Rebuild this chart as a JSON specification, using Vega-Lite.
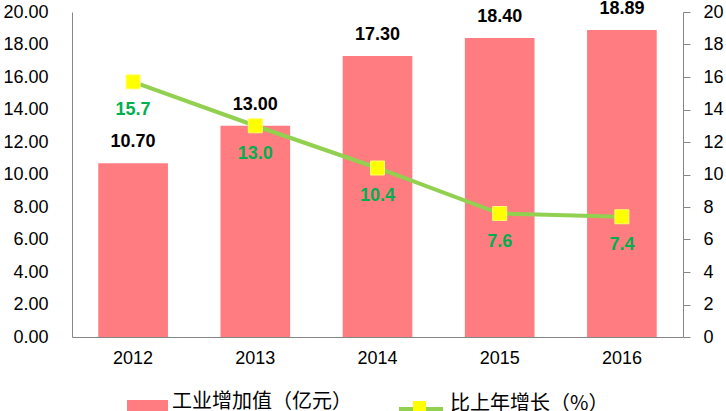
{
  "$schema": "https://vega.github.io/schema/vega-lite/v6.json",
  "autosize": "none",
  "width": 611,
  "height": 325,
  "padding": {"left": 72, "top": 12, "right": 43, "bottom": 74},
  "background": "white",
  "config": {
    "view": {"stroke": null},
    "axis": {"labelFont": "Liberation Sans", "labelFontSize": 18, "labelColor": "#000000", "domainColor": "#868686", "tickColor": "#868686", "grid": false, "title": null},
    "legend": {"padding": 0, "labelFont": "Noto Sans CJK SC", "labelFontSize": 20, "labelColor": "#000000", "labelLimit": 400, "title": null}
  },
  "data": {"values": [
    {"year": "2012", "value": 10.70, "growth": 15.7},
    {"year": "2013", "value": 13.00, "growth": 13.0},
    {"year": "2014", "value": 17.30, "growth": 10.4},
    {"year": "2015", "value": 18.40, "growth": 7.6},
    {"year": "2016", "value": 18.89, "growth": 7.4}
  ]},
  "encoding": {
    "x": {"field": "year", "type": "nominal", "scale": {"paddingInner": 0.43, "paddingOuter": 0.215},
      "axis": {"labelAngle": 0, "ticks": false, "labelPadding": 12, "domainColor": "#868686"}}
  },
  "layer": [
    {
      "encoding": {
        "y": {"field": "value", "type": "quantitative", "scale": {"domain": [0, 20], "nice": false},
          "axis": {"orient": "left", "values": [0,2,4,6,8,10,12,14,16,18,20], "format": ".2f", "ticks": false, "labelPadding": 24}}
      },
      "layer": [
        {
          "mark": {"type": "bar", "color": "#FF7C80"},
          "encoding": {
            "fill": {"datum": "工业增加值（亿元）", "scale": {"range": ["#FF7C80"]},
              "legend": {"orient": "none", "legendX": 55, "legendY": 369, "symbolType": "M-1,-0.073H1V0.5H-1Z", "symbolSize": 1681, "symbolStrokeWidth": 0, "labelOffset": 4}}
          }
        },
        {
          "mark": {"type": "text", "font": "Liberation Sans", "fontSize": 18, "fontWeight": "bold", "color": "#000000", "baseline": "middle", "dy": -21},
          "encoding": {"text": {"field": "value", "type": "quantitative", "format": ".2f"}}
        }
      ]
    },
    {
      "encoding": {
        "y": {"field": "growth", "type": "quantitative", "scale": {"domain": [0, 20], "nice": false},
          "axis": {"orient": "right", "values": [0,2,4,6,8,10,12,14,16,18,20], "format": "d", "tickSize": 7, "labelPadding": 13}}
      },
      "layer": [
        {
          "mark": {"type": "line", "strokeWidth": 4},
          "encoding": {
            "stroke": {"datum": "比上年增长（%）", "scale": {"range": ["#92D050"]},
              "legend": {"orient": "none", "legendX": 325, "legendY": 367.5, "symbolType": "M-1,0.25H1", "symbolSize": 1936, "symbolStrokeWidth": 4, "symbolStrokeColor": "#92D050", "labelOffset": 5}}
          }
        },
        {
          "mark": {"type": "point", "filled": true, "fill": "#FFFF00", "stroke": "#FFFF66", "strokeWidth": 1, "opacity": 1, "size": 196},
          "encoding": {
            "shape": {"datum": "marker", "scale": {"range": ["square"]},
              "legend": {"orient": "none", "legendX": 340, "legendY": 388, "symbolSize": 169, "symbolFillColor": "#FFFF00", "symbolStrokeColor": "#FFFF00", "symbolOpacity": 1, "labelExpr": "''", "labelFontSize": 1}}
          }
        },
        {
          "mark": {"type": "text", "font": "Liberation Sans", "fontSize": 18, "fontWeight": "bold", "color": "#00B050", "baseline": "middle", "dy": 28},
          "encoding": {"text": {"field": "growth", "type": "quantitative", "format": ".1f"}}
        }
      ]
    }
  ],
  "resolve": {"scale": {"y": "independent"}}
}
